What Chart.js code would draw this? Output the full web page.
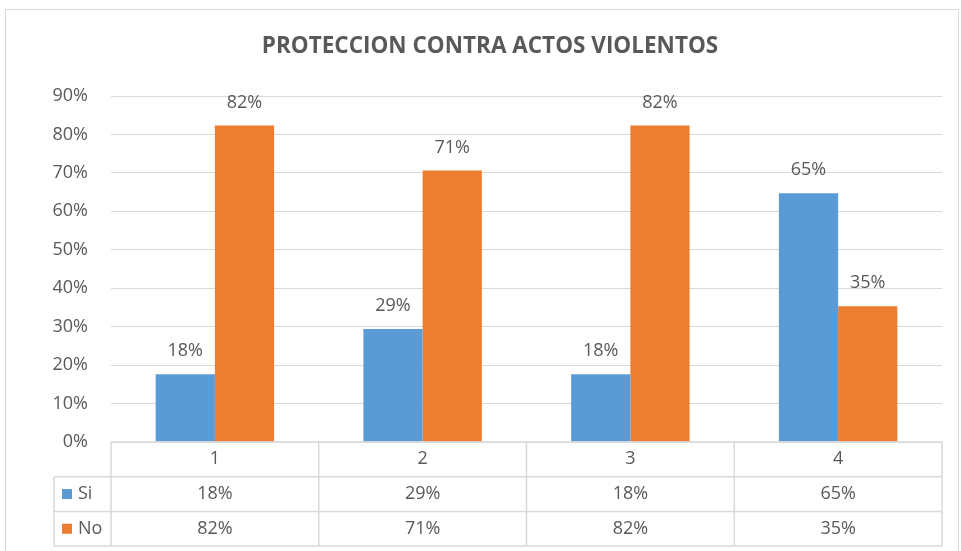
<!DOCTYPE html>
<html>
<head>
<meta charset="utf-8">
<script src="https://cdn.jsdelivr.net/npm/chart.js@4.4.1/dist/chart.umd.min.js"></script>
<style>
  html, body { margin: 0; padding: 0; background: #fff; }
  #wrap { width: 961px; height: 551px; }
</style>
</head>
<body>
<div id="wrap"><canvas id="chart" width="961" height="551"></canvas></div>
<script>
// data
const categories = ['1', '2', '3', '4'];
const siValues = [17.65, 29.41, 17.65, 64.71];
const noValues = [82.35, 70.59, 82.35, 35.29];
const seriesNames = ['Si', 'No'];
const yTicks = [0, 10, 20, 30, 40, 50, 60, 70, 80, 90];

const textColor = '#595959';
const lineColor = '#d9d9d9';
const font = "'Open Sans', 'Noto Sans', sans-serif";

// frame, title, labels above bars and the data table under the plot
const extras = {
  id: 'extras',
  afterDraw(chart) {
    const ctx = chart.ctx;
    const area = chart.chartArea;
    const x = chart.scales.x;
    ctx.save();

    // outer frame
    ctx.strokeStyle = lineColor;
    ctx.lineWidth = 1;
    ctx.strokeRect(5.5, 9.5, 953, 560);

    // title
    ctx.fillStyle = textColor;
    ctx.font = 'bold 22.5px ' + font;
    ctx.textAlign = 'center';
    ctx.textBaseline = 'middle';
    ctx.fillText('PROTECCION CONTRA ACTOS VIOLENTOS', 490, 47);

    // value labels
    ctx.font = '18px ' + font;
    chart.data.datasets.forEach((ds, di) => {
      chart.getDatasetMeta(di).data.forEach((bar, i) => {
        ctx.fillText(Math.round(ds.data[i]) + '%', bar.x, bar.y - 23);
      });
    });

    // data table
    const colW = x.width / categories.length;
    const rowH = 34.7;
    const top = area.bottom;
    const legLeft = 54;
    ctx.strokeStyle = lineColor;
    ctx.lineWidth = 1.5;
    ctx.beginPath();
    ctx.moveTo(area.left, top); ctx.lineTo(area.right, top);
    for (let r = 1; r <= 3; r++) {
      ctx.moveTo(legLeft, top + r * rowH); ctx.lineTo(area.right, top + r * rowH);
    }
    ctx.moveTo(legLeft, top + rowH); ctx.lineTo(legLeft, top + 3 * rowH);
    for (let c = 0; c <= categories.length; c++) {
      const cx = area.left + c * colW;
      ctx.moveTo(cx, top); ctx.lineTo(cx, top + 3 * rowH);
    }
    ctx.stroke();

    ctx.fillStyle = textColor;
    ctx.font = '18px ' + font;
    categories.forEach((cat, i) => {
      const cx = x.getPixelForValue(i);
      ctx.textAlign = 'center';
      ctx.fillText(cat, cx, top + rowH / 2);
      chart.data.datasets.forEach((ds, di) => {
        ctx.fillText(Math.round(ds.data[i]) + '%', cx, top + (di + 1.5) * rowH);
      });
    });
    chart.data.datasets.forEach((ds, di) => {
      const cy = top + (di + 1.5) * rowH;
      ctx.fillStyle = ds.backgroundColor;
      ctx.fillRect(62, cy - 5, 10, 10);
      ctx.fillStyle = textColor;
      ctx.textAlign = 'left';
      ctx.fillText(ds.label, 78, cy);
    });
    ctx.restore();
  }
};

new Chart(document.getElementById('chart'), {
  type: 'bar',
  data: {
    labels: categories,
    datasets: [
      { label: seriesNames[0], data: siValues, backgroundColor: '#5B9BD5' },
      { label: seriesNames[1], data: noValues, backgroundColor: '#ED7D31' }
    ]
  },
  options: {
    responsive: false,
    animation: false,
    layout: { padding: { top: 96, bottom: 109, right: 19, left: 0 } },
    datasets: { bar: { categoryPercentage: 0.57, barPercentage: 1 } },
    plugins: { legend: { display: false }, title: { display: false }, tooltip: { enabled: false } },
    scales: {
      x: { display: false },
      y: {
        min: 0,
        max: 90,
        afterFit(scale) { scale.width = 111; },
        afterBuildTicks(scale) { scale.ticks = yTicks.map(v => ({ value: v })); },
        ticks: {
          padding: 23,
          color: textColor,
          font: { family: font, size: 18 },
          callback: v => v + '%'
        },
        grid: { color: lineColor, drawTicks: false, lineWidth: 1 },
        border: { display: false }
      }
    }
  },
  plugins: [extras]
});
</script>
</body>
</html>
